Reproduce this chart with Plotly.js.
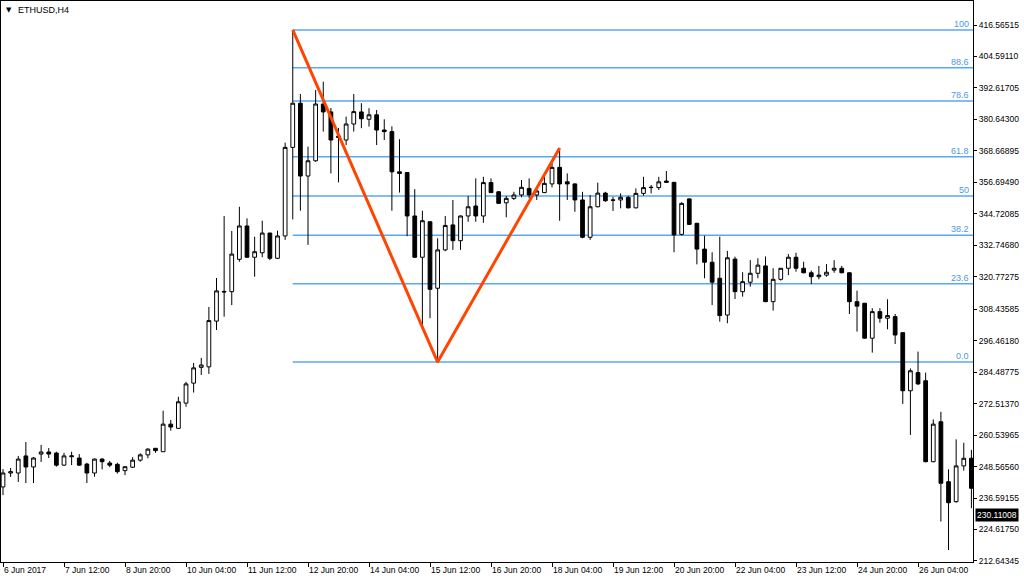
<!DOCTYPE html>
<html><head><meta charset="utf-8">
<script src="https://cdn.plot.ly/plotly-3.0.1.min.js"></script>
<style>html,body{margin:0;padding:0;background:#fff;}#chart{width:1024px;height:583px;}</style>
</head><body><div id="chart"></div>
<script>
const symbolTitle = 'ETHUSD,H4';
const opens = [240.8,246.1,246.1,252.6,248.4,253.3,254.1,253.7,249.1,252.3,251.8,249.5,246.1,251.4,249.9,249.4,247.0,248.3,251.0,253.0,
255.5,254.2,264.7,263.1,272.7,280.3,286.3,286.5,303.9,315.2,315.1,327.4,340.1,328.2,329.9,337.4,327.8,336.3,370.0,386.8,
359.1,364.9,386.5,383.5,374.3,372.8,378.9,383.5,380.7,382.4,376.6,376.0,360.7,360.4,343.9,328.2,341.7,316.4,331.0,340.5,
334.5,343.9,347.7,343.9,356.6,353.1,348.9,350.6,351.9,354.4,351.9,352.8,356.1,362.4,356.9,356.1,350.0,335.8,347.4,352.6,
350.0,350.0,351.0,347.0,352.5,354.7,354.7,357.2,356.7,336.9,350.4,341.1,331.3,326.3,320.2,306.2,327.5,315.1,318.7,322.1,
324.9,311.3,319.8,324.0,328.2,324.0,322.3,320.8,321.4,323.3,324.0,322.3,311.3,310.7,297.4,307.5,305.0,305.6,299.5,277.4,
284.3,281.2,250.4,265.6,242.8,235.2,248.8,251.7];
const highs = [247.6,248.0,252.6,257.9,252.2,256.8,255.6,254.2,253.8,254.2,253.3,250.0,251.6,251.7,250.7,250.0,248.6,252.1,253.6,255.5,
255.6,269.8,266.3,275.1,280.8,288.0,289.9,309.3,320.3,343.9,338.2,347.4,343.0,336.0,342.1,337.5,338.3,371.8,414.7,390.3,
370.3,391.8,395.0,385.0,377.4,381.7,390.3,386.8,384.9,384.2,380.7,378.0,373.1,360.6,354.1,345.9,341.9,335.4,343.9,350.0,
344.1,351.5,358.2,358.8,358.2,353.4,351.5,353.1,357.6,358.2,354.4,359.1,364.9,369.8,360.1,356.3,353.1,351.9,356.6,353.1,
351.2,352.5,351.6,354.4,358.8,355.7,358.8,361.0,356.8,349.1,350.6,341.3,336.4,330.1,336.0,330.6,328.4,322.5,327.1,327.8,
328.5,324.0,324.1,329.4,329.9,326.5,323.1,324.9,325.6,327.1,324.9,322.4,315.5,310.8,308.8,308.8,312.2,306.6,299.6,285.9,
292.3,284.3,266.5,269.4,247.5,258.9,257.6,254.9];
const lows = [237.7,244.6,242.7,242.3,242.3,250.3,251.8,248.5,248.8,249.1,248.8,242.3,244.7,247.5,248.3,245.9,245.3,248.0,250.4,251.7,
253.8,254.1,262.2,263.0,271.3,276.7,283.4,283.8,300.5,305.6,310.0,326.5,327.9,320.8,328.2,327.1,327.5,334.8,342.6,345.9,
332.9,364.5,376.0,360.1,356.7,370.9,376.0,377.3,377.9,370.9,372.8,345.9,352.8,336.2,327.9,301.5,305.0,288.3,330.5,331.0,
331.0,341.7,341.7,341.3,352.6,348.5,343.4,350.0,351.0,350.6,350.0,352.6,354.8,342.1,350.0,345.5,335.4,334.8,347.2,349.3,
345.8,346.8,346.8,346.8,351.6,352.5,353.8,356.6,330.1,336.5,340.5,325.5,320.2,310.0,303.7,303.1,312.3,313.2,317.0,320.2,
311.1,307.9,319.3,321.4,322.7,322.1,318.0,319.8,320.8,322.3,322.1,306.6,299.9,297.2,291.9,303.3,300.8,295.2,272.4,260.6,
279.6,250.2,250.2,227.6,216.8,234.8,247.0,232.7];
const closes = [246.1,246.6,251.4,248.4,251.8,254.1,253.3,249.1,252.6,252.6,249.1,246.1,251.4,250.4,249.1,246.6,248.5,251.0,253.0,255.2,
254.6,264.7,263.6,273.2,280.0,286.1,287.2,304.1,315.4,315.0,329.4,340.1,328.2,330.3,337.4,327.8,336.3,370.0,386.8,359.1,
364.9,386.5,383.5,372.8,373.8,378.9,383.6,380.9,382.4,376.6,376.0,360.7,360.1,343.9,328.2,342.1,316.0,331.0,340.3,334.5,
343.9,347.4,343.9,356.6,352.8,348.7,350.6,351.9,354.8,351.9,353.4,356.3,362.4,356.1,356.1,350.0,335.8,347.4,352.6,349.7,
349.9,351.0,347.0,352.5,354.7,354.8,356.9,356.7,336.7,348.7,340.7,331.3,326.3,318.7,306.0,328.0,315.1,318.9,322.1,325.2,
311.3,319.8,324.0,328.2,324.0,322.3,320.8,321.4,322.5,324.0,322.3,311.3,309.6,297.4,307.5,305.0,306.0,298.6,277.4,285.0,
280.0,250.4,264.7,242.2,234.8,248.8,251.7,240.3];
const xTickBars = [0,8,16,24,32,40,48,56,64,72,80,88,96,104,112,120];
const xTickText = ['6 Jun 2017','7 Jun 12:00','8 Jun 20:00','10 Jun 04:00','11 Jun 12:00','12 Jun 20:00','14 Jun 04:00','15 Jun 12:00',
'16 Jun 20:00','18 Jun 04:00','19 Jun 12:00','20 Jun 20:00','22 Jun 04:00','23 Jun 12:00','24 Jun 20:00','26 Jun 04:00'];
const yTickText = ['416.56515','404.59110','392.61705','380.64300','368.66895','356.69490','344.72085','332.74680','320.77275',
'308.43585','296.46180','284.48775','272.51370','260.53965','248.56560','236.59155','224.61750','212.64345'];
const fibLevels = [100, 88.6, 78.6, 61.8, 50, 38.2, 23.6, 0];
const fibLabels = ['100','88.6','78.6','61.8','50','38.2','23.6','0.0'];
const zigzagBars = [38, 57, 73];
const zigzagKinds = ['high', 'low', 'high'];
const lastPrice = 230.11008;
const lastPriceText = '230.11008';

const bars = opens.map((_, i) => i);
const xRange = [-0.262, 127.21];
const yRange = [212.24, 425.70];
const fibStartBar = zigzagBars[0];
const fibHigh = highs[zigzagBars[0]];
const fibLow = lows[zigzagBars[1]];
const fibColor = '#5aa7f2';
const axisFont = {family: 'Liberation Sans, Arial, sans-serif', size: 8.5, color: '#000'};

const candles = {
  type: 'candlestick', x: bars, open: opens, high: highs, low: lows, close: closes,
  increasing: {line: {color: '#000', width: 1}, fillcolor: '#ffffff'},
  decreasing: {line: {color: '#000', width: 1}, fillcolor: '#000000'},
  whiskerwidth: 0, hoverinfo: 'skip', showlegend: false
};
const zig = {
  type: 'scatter', mode: 'lines',
  x: zigzagBars,
  y: zigzagBars.map((b, k) => zigzagKinds[k] === 'high' ? highs[b] : lows[b]),
  line: {color: '#ff4500', width: 3}, hoverinfo: 'skip', showlegend: false
};

const shapes = fibLevels.map(l => ({
  type: 'line', xref: 'x', yref: 'y', layer: 'below',
  x0: fibStartBar, x1: xRange[1],
  y0: fibLow + (fibHigh - fibLow) * l / 100, y1: fibLow + (fibHigh - fibLow) * l / 100,
  line: {color: fibColor, width: 1.5}
}));

const annotations = fibLevels.map((l, k) => ({
  xref: 'x', yref: 'y', x: xRange[1], y: fibLow + (fibHigh - fibLow) * l / 100,
  text: fibLabels[k], showarrow: false, xanchor: 'right', yanchor: 'bottom',
  xshift: -2, yshift: -1,
  font: {family: 'Liberation Sans, Arial, sans-serif', size: 9, color: '#4a98e8'}
}));
annotations.push({
  xref: 'paper', yref: 'y', x: 1, y: lastPrice, text: lastPriceText, showarrow: false,
  xanchor: 'left', yanchor: 'middle', xshift: 2, bgcolor: '#000', borderpad: 1,
  font: {family: 'Liberation Sans, Arial, sans-serif', size: 8.5, color: '#fff'}
});
annotations.push({
  xref: 'paper', yref: 'paper', x: 0, y: 1, xanchor: 'left', yanchor: 'top',
  xshift: 3, yshift: -3, text: '▼', showarrow: false,
  font: {family: 'DejaVu Sans, sans-serif', size: 7, color: '#000'}
});
annotations.push({
  xref: 'paper', yref: 'paper', x: 0, y: 1, xanchor: 'left', yanchor: 'top',
  xshift: 15, yshift: -2, text: symbolTitle, showarrow: false,
  font: {family: 'Liberation Sans, Arial, sans-serif', size: 9, color: '#000'}
});

const layout = {
  width: 1024, height: 583,
  margin: {l: 1, r: 51, t: 1, b: 21, pad: 0},
  paper_bgcolor: '#fff', plot_bgcolor: '#fff',
  showlegend: false, dragmode: false,
  xaxis: {
    range: xRange, type: 'linear', showgrid: false, zeroline: false,
    showline: true, mirror: true, linecolor: '#000', linewidth: 1,
    tickmode: 'array', tickvals: xTickBars, ticktext: xTickText,
    ticks: 'outside', ticklen: 4, tickcolor: '#000', ticklabelposition: 'outside right',
    tickfont: axisFont, rangeslider: {visible: false}, fixedrange: true
  },
  yaxis: {
    range: yRange, side: 'right', showgrid: false, zeroline: false,
    showline: true, mirror: true, linecolor: '#000', linewidth: 1,
    tickmode: 'array', tickvals: yTickText.map(Number), ticktext: yTickText,
    ticks: 'outside', ticklen: 3, tickcolor: '#000', tickfont: axisFont, fixedrange: true
  },
  shapes: shapes,
  annotations: annotations
};

Plotly.newPlot('chart', [candles, zig], layout, {displayModeBar: false, staticPlot: true});
</script>
</body></html>
